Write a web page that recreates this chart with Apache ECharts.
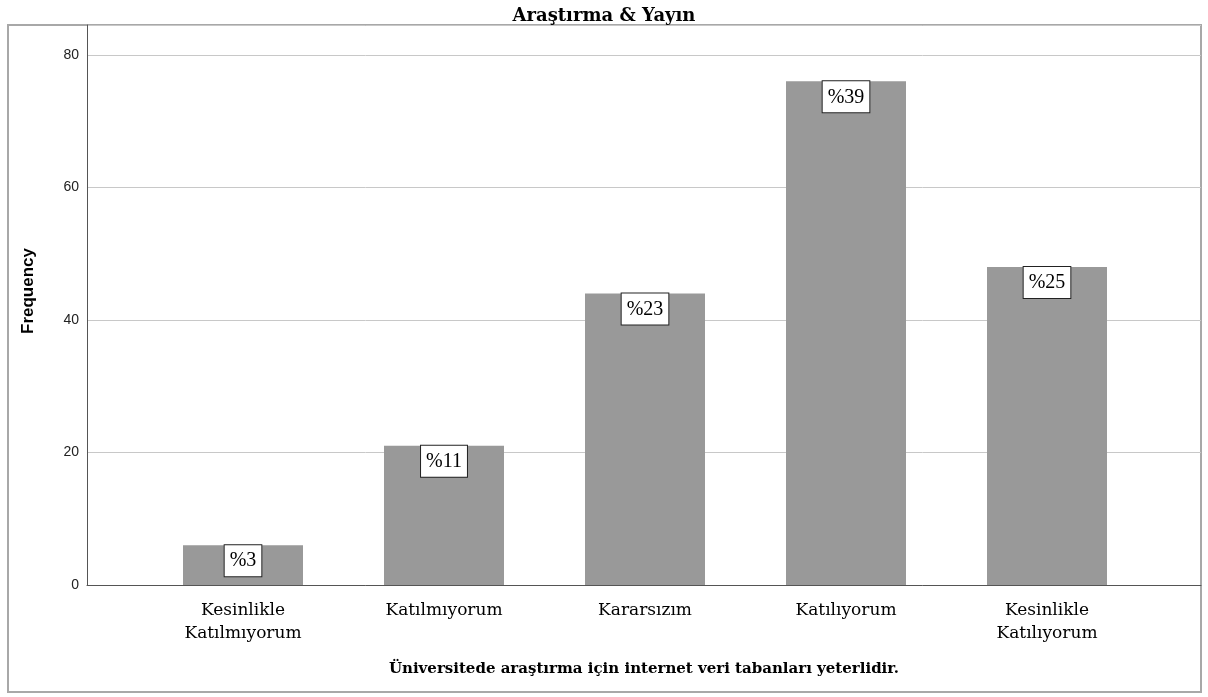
<!DOCTYPE html>
<html><head><meta charset="utf-8">
<script src="https://cdn.jsdelivr.net/npm/echarts@6/dist/echarts.min.js"></script>
<style>html,body{margin:0;padding:0;background:#fff}#c{width:1208px;height:697px}</style>
</head><body><div id="c"></div>
<script>
const categories = ['Kesinlikle\nKatılmıyorum', 'Katılmıyorum', 'Kararsızım', 'Katılıyorum', 'Kesinlikle\nKatılıyorum'];
const frequencies = [6, 21, 44, 76, 48];
const percentLabels = ['%3', '%11', '%23', '%39', '%25'];
const yTicks = [0, 20, 40, 60, 80];

const chart = echarts.init(document.getElementById('c'), null, {renderer: 'canvas'});
const serif = '"Liberation Serif", "DejaVu Serif", serif';
const wideSerif = '"DejaVu Serif", "Liberation Serif", serif';
const sans = '"Liberation Sans", Arial, sans-serif';
chart.setOption({
  animation: false,
  backgroundColor: '#fff',
  title: {
    text: 'Araştırma & Yayın', left: 'center', top: 2,
    textStyle: {fontFamily: wideSerif, fontWeight: 'bold', fontSize: 18, color: '#000'}
  },
  graphic: [{
    type: 'rect', shape: {x: 8, y: 25, width: 1193, height: 667},
    style: {fill: 'none', stroke: '#a8a8a8', lineWidth: 2}, z: -1
  }],
  grid: [
    {left: 87, right: 7, top: 25, bottom: 112},
    {left: 142.5, right: 60.5, top: 25, bottom: 112}
  ],
  xAxis: [
    {
      gridIndex: 0, type: 'category', data: [''],
      axisLine: {show: true, lineStyle: {color: '#555', width: 1}},
      axisTick: {show: false}, axisLabel: {show: false},
      name: 'Üniversitede araştırma için internet veri tabanları yeterlidir.',
      nameLocation: 'middle', nameGap: 77,
      nameTextStyle: {fontFamily: wideSerif, fontWeight: 'bold', fontSize: 15, color: '#000'}
    },
    {
      gridIndex: 1, type: 'category', data: categories,
      axisLine: {show: false}, axisTick: {show: false},
      axisLabel: {fontFamily: wideSerif, fontSize: 17, color: '#000', margin: 14, lineHeight: 23, interval: 0}
    }
  ],
  yAxis: [
    {
      gridIndex: 0, type: 'value', min: 0, max: 84.5, interval: 20,
      axisLine: {show: true, lineStyle: {color: '#555', width: 1}},
      axisTick: {show: false},
      axisLabel: {fontFamily: sans, fontSize: 14, color: '#222', margin: 8,
        formatter: v => yTicks.includes(v) ? String(v) : ''},
      splitLine: {show: true, lineStyle: {color: '#c8c8c8', width: 1}},
      name: 'Frequency', nameLocation: 'middle', nameGap: 50, nameRotate: 90,
      nameTextStyle: {fontFamily: sans, fontWeight: 'bold', fontSize: 17, color: '#000', padding: [0, 0, 0, 28]}
    },
    {
      gridIndex: 1, type: 'value', min: 0, max: 84.5, show: false,
      splitLine: {show: false}
    }
  ],
  series: [{
    type: 'bar', xAxisIndex: 1, yAxisIndex: 1,
    data: frequencies, barWidth: 120,
    itemStyle: {color: '#999999'},
    label: {
      show: true, position: 'insideTop', distance: 0,
      formatter: p => percentLabels[p.dataIndex],
      fontFamily: serif, fontSize: 20, color: '#000',
      backgroundColor: '#fff', borderColor: '#222', borderWidth: 1,
      padding: [6, 5, 5, 5]
    }
  }]
});
</script></body></html>
